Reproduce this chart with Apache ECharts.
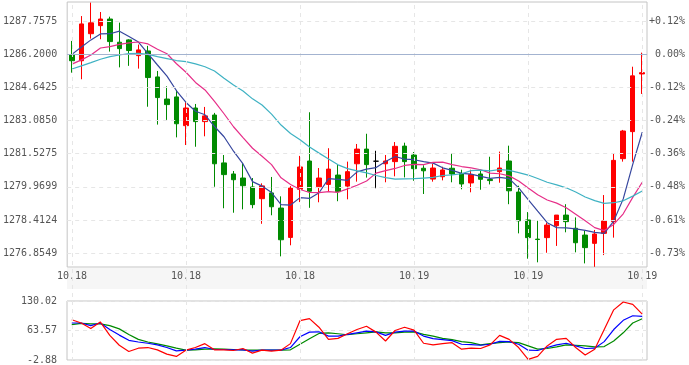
<!DOCTYPE html>
<html><head><meta charset="utf-8">
<script src="https://cdn.jsdelivr.net/npm/echarts@6/dist/echarts.min.js"></script>
<style>html,body{margin:0;padding:0;background:#fff}#c{width:689px;height:365px}</style>
</head><body><div id="c"></div>
<script>
// ---- data ----
const basePrice = 1286.2;
const priceStep = 1.5575;
const priceTickLabels = ['1276.8549','1278.4124','1279.9699','1281.5275','1283.0850','1284.6425','1286.2000','1287.7575'];
const pctTickLabels = ['-0.73%','-0.61%','-0.48%','-0.36%','-0.24%','-0.12%','0.00%','+0.12%'];
const xTickLabels = ['10.18','10.18','10.18','10.19','10.19','10.19'];
const kdjTickLabels = ['-2.88','63.57','130.02'];
const kdjMin = -2.88;
const kdjStep = 66.45;
const dojiIndex = 32;

const opens = [1286.16,1285.89,1287.16,1287.54,1287.85,1286.76,1286.87,1286.13,1286.35,1285.13,
1284.09,1284.19,1282.84,1283.67,1283.03,1283.34,1281.09,1280.57,1280.38,1279.96,
1279.41,1279.68,1278.97,1277.59,1279.85,1281.18,1279.97,1280.08,1280.52,1280.00,
1281.05,1281.74,1281.17,1281.05,1281.15,1281.88,1281.46,1280.84,1280.33,1280.44,
1280.84,1280.60,1280.15,1280.57,1280.31,1280.68,1281.18,1279.72,1278.41,1277.51,
1277.58,1278.14,1278.64,1278.02,1277.70,1277.31,1277.78,1278.33,1281.29,1282.56,1285.27];
const closes = [1285.89,1287.62,1287.67,1287.85,1286.79,1286.46,1286.37,1286.40,1285.10,1284.16,
1283.83,1282.93,1283.67,1283.03,1283.30,1281.05,1280.54,1280.30,1280.02,1279.13,
1280.01,1279.03,1277.48,1279.91,1280.90,1279.76,1280.38,1280.80,1279.74,1280.68,
1281.74,1281.01,1281.17,1281.18,1281.87,1281.15,1280.82,1280.72,1280.85,1280.76,
1280.57,1280.10,1280.54,1280.32,1280.26,1280.85,1279.78,1278.37,1277.58,1277.49,
1278.17,1278.64,1278.33,1277.34,1277.11,1277.75,1278.36,1281.21,1282.59,1285.18,1285.33];
const lows = [1285.33,1285.02,1286.93,1286.90,1286.32,1285.58,1285.65,1285.52,1283.73,1282.89,
1283.11,1282.29,1281.93,1281.85,1282.34,1279.97,1278.96,1278.75,1278.91,1278.96,
1278.23,1278.63,1276.70,1277.22,1279.25,1278.98,1279.24,1279.76,1279.29,1279.38,
1280.21,1280.40,1279.90,1280.18,1280.46,1280.41,1280.25,1279.63,1280.21,1280.27,
1280.18,1279.85,1279.71,1279.83,1280.08,1280.16,1279.15,1277.78,1276.59,1276.42,
1276.87,1277.19,1277.83,1276.89,1276.37,1276.21,1276.76,1277.58,1281.15,1281.15,1284.33];
const highs = [1286.82,1287.99,1288.62,1288.18,1287.96,1287.68,1286.90,1286.65,1286.59,1285.41,
1284.69,1284.52,1283.94,1283.86,1283.72,1283.44,1281.46,1280.71,1281.07,1280.38,
1280.13,1280.43,1279.52,1280.00,1281.42,1283.47,1280.85,1281.78,1280.99,1281.15,
1281.98,1282.46,1281.66,1281.46,1282.07,1282.04,1281.60,1280.98,1281.05,1280.91,
1281.54,1280.77,1280.77,1280.77,1281.38,1281.62,1281.90,1280.02,1278.78,1278.37,
1278.28,1278.64,1279.15,1278.53,1277.90,1277.94,1279.58,1281.54,1282.64,1285.61,1286.27];

const ma5 = [1286.19,1286.54,1286.87,1287.15,1287.16,1287.28,1287.03,1286.77,1286.22,1285.69,
1285.17,1284.48,1283.93,1283.52,1283.35,1282.80,1282.32,1281.64,1281.04,1280.21,
1280.00,1279.70,1279.13,1279.11,1279.46,1279.42,1279.69,1280.35,1280.32,1280.27,
1280.67,1280.80,1280.87,1281.16,1281.39,1281.27,1281.24,1281.15,1281.08,1280.86,
1280.74,1280.60,1280.56,1280.46,1280.36,1280.41,1280.35,1279.92,1279.37,1278.82,
1278.28,1278.05,1278.04,1277.99,1277.92,1277.83,1277.78,1278.36,1279.40,1281.02,1282.53];
const ma10 = [1285.73,1285.93,1286.16,1286.49,1286.55,1286.66,1286.73,1286.77,1286.68,1286.43,
1286.22,1285.75,1285.35,1284.87,1284.52,1283.98,1283.40,1282.79,1282.28,1281.78,
1281.40,1281.01,1280.39,1280.08,1279.84,1279.70,1279.69,1279.74,1279.71,1279.87,
1280.04,1280.24,1280.61,1280.73,1280.83,1280.97,1281.02,1281.01,1281.12,1281.13,
1281.01,1280.92,1280.86,1280.77,1280.61,1280.58,1280.48,1280.24,1279.91,1279.59,
1279.35,1279.20,1278.98,1278.68,1278.37,1278.05,1277.91,1278.20,1278.70,1279.47,1280.18];
const ma20 = [1285.50,1285.65,1285.80,1285.96,1286.08,1286.16,1286.23,1286.24,1286.19,1286.08,
1285.99,1285.90,1285.85,1285.74,1285.61,1285.41,1285.07,1284.75,1284.47,1284.10,
1283.81,1283.38,1282.87,1282.47,1282.18,1281.84,1281.55,1281.27,1281.00,1280.82,
1280.72,1280.62,1280.50,1280.40,1280.33,1280.34,1280.35,1280.38,1280.41,1280.50,
1280.53,1280.58,1280.73,1280.75,1280.72,1280.78,1280.74,1280.63,1280.52,1280.36,
1280.18,1280.06,1279.92,1279.72,1279.49,1279.32,1279.19,1279.22,1279.31,1279.53,1279.77];

const kdjK = [80.5,80.5,74.6,80.5,65.8,53.2,41.4,37.7,34.8,31.1,
25.2,17.8,19.3,21.5,25.2,20.8,20.8,20.0,20.0,17.1,
19.3,19.3,19.3,25.2,49.5,59.9,60.6,51.0,51.0,54.7,
58.4,62.1,60.6,52.5,59.9,62.1,62.1,51.0,45.1,42.9,
40.7,32.6,31.8,30.4,32.6,39.2,38.5,32.6,19.3,18.5,
25.2,31.1,34.8,28.9,23.0,23.7,38.5,65.8,86.5,96.8,95.3];
const kdjD = [76.9,79.8,78.3,78.3,74.6,67.2,54.7,43.6,37.7,33.3,
28.9,23.7,19.3,20.0,21.5,22.2,21.5,20.8,20.0,19.3,
19.3,19.3,19.3,20.0,32.6,45.1,56.9,58.4,56.2,54.0,
56.2,58.4,60.6,58.4,58.4,59.9,60.6,54.7,51.0,45.9,
42.9,38.5,36.2,31.1,34.0,36.2,37.7,36.2,28.9,21.5,
23.0,26.6,31.1,30.4,28.9,26.6,27.4,39.9,58.4,80.5,90.2];
const kdjJ = [87.9,80.5,68.0,82.8,52.5,30.3,16.3,23.7,25.2,20.0,
10.4,5.2,19.3,25.2,34.0,20.0,20.0,18.5,23.0,12.6,
19.3,17.1,19.3,34.0,85.7,90.2,71.0,43.6,45.9,56.2,
65.8,73.2,59.9,39.9,63.6,71.0,64.3,34.8,31.1,34.0,
36.2,21.5,23.7,23.0,31.1,52.5,43.6,25.2,-1.4,5.2,
28.9,43.6,45.9,25.2,8.2,21.5,65.8,110.1,127.8,122.6,100.5];

// ---- build options ----
const cats = opens.map((_, i) => String(i));
const r = v => Math.round(v * 10000) / 10000;
const candleData = opens.map((o, i) => {
  const item = { value: [r(o - basePrice), r(closes[i] - basePrice), r(lows[i] - basePrice), r(highs[i] - basePrice)] };
  if (i === dojiIndex) item.itemStyle = { color: '#000', color0: '#000', borderColor: '#000', borderColor0: '#000', borderColorDoji: '#000' };
  return item;
});
const off = arr => arr.map(v => r(v - basePrice));
const offK = arr => arr.map(v => r(v - kdjMin));

// tick positions (offsets from the base price), one per tick label
const priceTickValues = priceTickLabels.map((_, k) => r((k - 6) * priceStep));
function labelFor(v, values, labels) {
  let best = -1, d = 1e9;
  values.forEach((t, k) => { const dd = Math.abs(t - v); if (dd < d) { d = dd; best = k; } });
  return d < 1e-3 ? labels[best] : '';
}
function stepLabel(v, step, labels, zeroIdx) {
  const k = Math.round(v / step);
  if (Math.abs(v - k * step) > 1e-3) return '';
  return labels[k + zeroIdx] || '';
}

const labelStyle = { color: '#555', fontSize: 10, fontFamily: 'DejaVu Sans Mono' };
const dash = { color: '#e6e6e6', type: [4, 4], width: 1 };
const borderColor = '#c4c4c4';

const option = {
  animation: false,
  textStyle: { fontFamily: 'DejaVu Sans Mono' },
  grid: [
    { left: 67, right: 42, top: 2, height: 265, show: true, borderColor: borderColor, borderWidth: 1, backgroundColor: 'rgba(0,0,0,0)' },
    { left: 67, right: 42, top: 301, height: 60, show: true, borderColor: borderColor, borderWidth: 1, backgroundColor: 'rgba(0,0,0,0)' },
    { left: 67, right: 42, top: 268, height: 21, show: true, borderWidth: 0, backgroundColor: '#f6f6f6' },
    { left: 67, right: 42, top: 3, height: 358, show: false }
  ],
  xAxis: [
    { gridIndex: 0, type: 'category', data: cats, boundaryGap: true,
      axisLine: { show: false }, axisTick: { show: false }, splitLine: { show: false },
      axisLabel: Object.assign({ interval: 11, margin: 4, formatter: (v, i) => xTickLabels[Math.round(i / 12)] }, labelStyle) },
    { gridIndex: 1, type: 'category', data: cats, boundaryGap: true,
      axisLine: { show: false }, axisTick: { show: false }, axisLabel: { show: false }, splitLine: { show: false } },
    { gridIndex: 2, type: 'category', data: cats, show: false },
    { gridIndex: 3, type: 'category', data: cats, boundaryGap: true, show: false }
  ],
  yAxis: [
    { gridIndex: 0, type: 'value', min: -10.0, max: 2.45,
      axisLine: { show: false }, axisTick: { show: false, customValues: priceTickValues },
      splitLine: { show: false },
      axisLabel: Object.assign({ margin: 10, customValues: priceTickValues, formatter: v => labelFor(v, priceTickValues, priceTickLabels) }, labelStyle) },
    { gridIndex: 0, type: 'value', position: 'right', min: -10.0, max: 2.45,
      axisLine: { show: false }, axisTick: { show: false, customValues: priceTickValues }, splitLine: { show: false },
      axisLabel: Object.assign({ margin: 38, align: 'right', customValues: priceTickValues, formatter: v => labelFor(v, priceTickValues, pctTickLabels) }, labelStyle) },
    { gridIndex: 1, type: 'value', min: 0, max: 2 * kdjStep, interval: kdjStep,
      axisLine: { show: false }, axisTick: { show: false },
      splitLine: { show: true, lineStyle: dash },
      axisLabel: Object.assign({ margin: 10, formatter: v => stepLabel(v, kdjStep, kdjTickLabels, 0) }, labelStyle) },
    { gridIndex: 2, type: 'value', show: false },
    { gridIndex: 3, type: 'value', show: false, min: 0, max: 1 }
  ],
  series: [
    { type: 'line', xAxisIndex: 3, yAxisIndex: 4, data: [], silent: true, z: 1,
      markLine: { silent: true, symbol: ['none', 'none'], label: { show: false }, animation: false,
        lineStyle: dash,
        data: xTickLabels.map((_, k) => ({ xAxis: k * 12 })) } },
    { type: 'line', xAxisIndex: 0, yAxisIndex: 0, data: [], silent: true, z: 1,
      markLine: { silent: true, symbol: ['none', 'none'], label: { show: false }, animation: false,
        lineStyle: dash,
        data: priceTickValues.filter(v => v !== 0).map(v => ({ yAxis: v })) } },
    { type: 'candlestick', xAxisIndex: 0, yAxisIndex: 0, data: candleData, barWidth: 5, z: 2,
      itemStyle: { color: '#ff0000', color0: '#008a00', borderColor: '#ff0000', borderColor0: '#008a00', borderWidth: 1 },
      markLine: { silent: true, symbol: ['none', 'none'], label: { show: false }, animation: false,
        lineStyle: { color: '#a3b3d0', type: 'solid', width: 1 },
        data: [{ yAxis: 0 }] } },
    { type: 'line', xAxisIndex: 0, yAxisIndex: 0, data: off(ma5), symbol: 'none', z: 3,
      lineStyle: { color: '#36469e', width: 1.2 } },
    { type: 'line', xAxisIndex: 0, yAxisIndex: 0, data: off(ma10), symbol: 'none', z: 3,
      lineStyle: { color: '#e62e88', width: 1.2 } },
    { type: 'line', xAxisIndex: 0, yAxisIndex: 0, data: off(ma20), symbol: 'none', z: 3,
      lineStyle: { color: '#3fb2c3', width: 1.2 } },
    { type: 'line', xAxisIndex: 1, yAxisIndex: 2, data: offK(kdjD), symbol: 'none', z: 3,
      lineStyle: { color: '#008a00', width: 1.2 } },
    { type: 'line', xAxisIndex: 1, yAxisIndex: 2, data: offK(kdjK), symbol: 'none', z: 3,
      lineStyle: { color: '#0000ff', width: 1.2 } },
    { type: 'line', xAxisIndex: 1, yAxisIndex: 2, data: offK(kdjJ), symbol: 'none', z: 3,
      lineStyle: { color: '#ff0000', width: 1.2 } }
  ]
};
const chart = echarts.init(document.getElementById('c'), null, { renderer: 'canvas' });
chart.setOption(option);
</script>
</body></html>
